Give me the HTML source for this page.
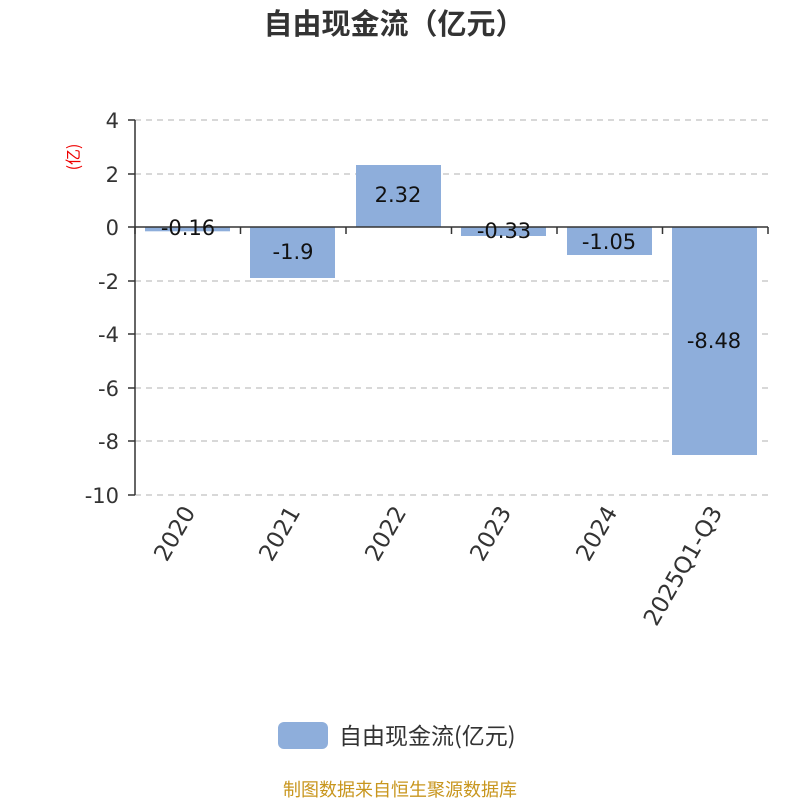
<!DOCTYPE html>
<html><head><meta charset="utf-8"><style>body{margin:0;background:#fff}svg{display:block}</style></head><body>
<svg width="800" height="800" xmlns="http://www.w3.org/2000/svg" font-family="'DejaVu Sans','Noto Sans CJK SC',sans-serif">
<text x="394" y="34" text-anchor="middle" font-size="29" font-weight="bold" fill="#333" font-family="'Noto Sans CJK SC',sans-serif">自由现金流（亿元）</text>
<text transform="translate(79,157) rotate(-90)" text-anchor="middle" font-size="16" fill="#e00" font-family="'Noto Sans CJK SC',sans-serif">(亿)</text>
<g stroke="#ccc" stroke-width="1.5" stroke-dasharray="6,5">
<line x1="135" y1="120" x2="768" y2="120"/><line x1="135" y1="174" x2="768" y2="174"/>
<line x1="135" y1="281" x2="768" y2="281"/><line x1="135" y1="334" x2="768" y2="334"/>
<line x1="135" y1="388" x2="768" y2="388"/><line x1="135" y1="441" x2="768" y2="441"/>
<line x1="135" y1="495" x2="768" y2="495"/>
</g>
<g fill="#8eaedb">
<rect x="145" y="227" width="85" height="4.3"/>
<rect x="250" y="227" width="85" height="51"/>
<rect x="356" y="165" width="85" height="62"/>
<rect x="461" y="227" width="85" height="9"/>
<rect x="567" y="227" width="85" height="28"/>
<rect x="672" y="227" width="85" height="228"/>
</g>
<g stroke="#333" stroke-width="1.5">
<line x1="135" y1="120" x2="135" y2="495"/>
<line x1="128" y1="120" x2="135" y2="120"/><line x1="128" y1="174" x2="135" y2="174"/><line x1="128" y1="227" x2="135" y2="227"/><line x1="128" y1="281" x2="135" y2="281"/><line x1="128" y1="334" x2="135" y2="334"/><line x1="128" y1="388" x2="135" y2="388"/><line x1="128" y1="441" x2="135" y2="441"/><line x1="128" y1="495" x2="135" y2="495"/>
<line x1="135" y1="227" x2="768" y2="227"/>
<line x1="135" y1="227" x2="135" y2="234"/><line x1="240.5" y1="227" x2="240.5" y2="234"/><line x1="346" y1="227" x2="346" y2="234"/><line x1="451.5" y1="227" x2="451.5" y2="234"/><line x1="557" y1="227" x2="557" y2="234"/><line x1="662.5" y1="227" x2="662.5" y2="234"/><line x1="768" y1="227" x2="768" y2="234"/>
</g>
<g font-size="21" fill="#333" text-anchor="end">
<text x="119" y="128">4</text><text x="119" y="182">2</text><text x="119" y="235">0</text><text x="119" y="289">-2</text><text x="119" y="342">-4</text><text x="119" y="396">-6</text><text x="119" y="449">-8</text><text x="119" y="503">-10</text>
</g>
<g font-size="21" fill="#111" text-anchor="middle">
<text x="188" y="235">-0.16</text><text x="293" y="259">-1.9</text><text x="398" y="202">2.32</text><text x="504" y="238">-0.33</text><text x="609" y="249">-1.05</text><text x="714" y="348">-8.48</text>
</g>
<g font-size="23" fill="#333" text-anchor="end">
<text transform="translate(196,512) rotate(-60)">2020</text>
<text transform="translate(301,512) rotate(-60)">2021</text>
<text transform="translate(407,512) rotate(-60)">2022</text>
<text transform="translate(512,512) rotate(-60)">2023</text>
<text transform="translate(618,512) rotate(-60)">2024</text>
<text transform="translate(723,512) rotate(-60)">2025Q1-Q3</text>
</g>
<rect x="278" y="722" width="50" height="27" rx="6" fill="#8eaedb"/>
<text x="339" y="744" font-size="23" fill="#333" font-family="'Noto Sans CJK SC',sans-serif">自由现金流(亿元)</text>
<text x="400" y="796" text-anchor="middle" font-size="18" fill="#c8961e" font-family="'Noto Sans CJK SC',sans-serif">制图数据来自恒生聚源数据库</text>
</svg>
</body></html>
